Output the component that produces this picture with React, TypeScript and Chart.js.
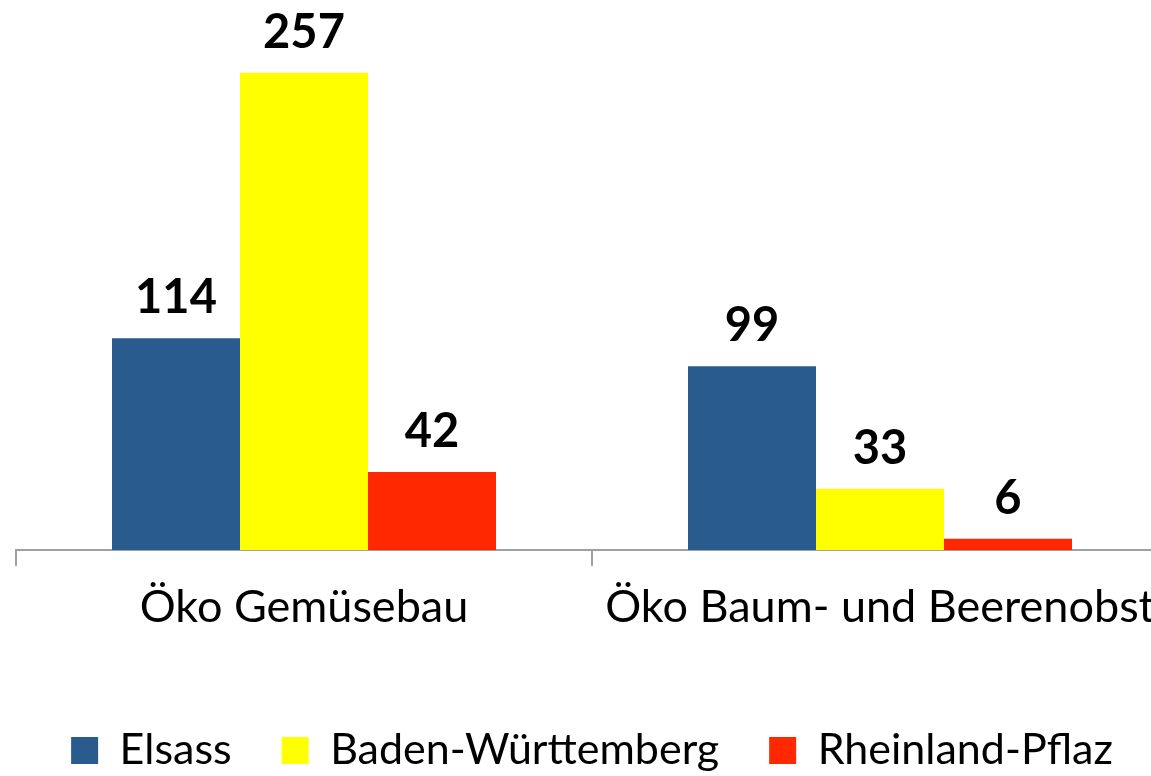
import React, { useEffect, useRef } from 'react';
import { Chart, registerables } from 'chart.js';

Chart.register(...registerables);

const categories = ['Öko Gemüsebau', 'Öko Baum- und Beerenobst'];
const seriesNames = ['Elsass', 'Baden-Württemberg', 'Rheinland-Pflaz'];
const elsass = [114, 99];
const badenWuerttemberg = [257, 33];
const rheinlandPflaz = [42, 6];

const valueLabels = {
  id: 'valueLabels',
  afterDatasetsDraw(chart: any) {
    const ctx = chart.ctx;
    ctx.save();
    ctx.font = 'bold 47px Lato';
    ctx.fillStyle = '#000000';
    ctx.textAlign = 'center';
    ctx.textBaseline = 'alphabetic';
    chart.data.datasets.forEach((ds: any, i: number) => {
      const meta = chart.getDatasetMeta(i);
      meta.data.forEach((el: any, j: number) => {
        ctx.fillText(String(ds.data[j]), el.x, el.y - 25);
      });
    });
    ctx.restore();
  },
};

export default function App() {
  const ref = useRef<HTMLCanvasElement>(null);
  useEffect(() => {
    if (!ref.current) return;
    const chart = new Chart(ref.current, {
      type: 'bar',
      data: {
        labels: categories,
        datasets: [
          { label: seriesNames[0], data: elsass, backgroundColor: '#2A5B8E', borderWidth: 0 },
          { label: seriesNames[1], data: badenWuerttemberg, backgroundColor: '#FFFF00', borderWidth: 0 },
          { label: seriesNames[2], data: rheinlandPflaz, backgroundColor: '#FF2800', borderWidth: 0 },
        ],
      },
      options: {
        responsive: false,
        animation: false,
        layout: { padding: { left: 16, right: 16, top: 30, bottom: 0 } },
        datasets: { bar: { barPercentage: 1, categoryPercentage: 2 / 3 } },
        plugins: {
          legend: {
            position: 'bottom',
            labels: {
              boxWidth: 27,
              boxHeight: 27,
              padding: 50,
              color: '#000000',
              font: { family: 'Lato', size: 43 },
            },
          },
          tooltip: { enabled: false },
        },
        scales: {
          x: {
            grid: {
              display: true,
              drawOnChartArea: false,
              drawTicks: true,
              tickLength: 16,
              color: '#A0A0A0',
              lineWidth: 2,
              offset: true,
            },
            border: { display: true, color: '#A0A0A0', width: 2 },
            ticks: {
              color: '#000000',
              padding: 14,
              font: { family: 'Lato', size: 45 },
              maxRotation: 0,
              autoSkip: false,
            },
            afterFit: (scale: any) => {
              scale.height = 129;
            },
          },
          y: {
            display: false,
            min: 0,
            max: 280,
          },
        },
      },
      plugins: [valueLabels],
    });
    return () => chart.destroy();
  }, []);
  return (
    <div style={{ position: 'absolute', left: 0, top: 0, width: 1151, height: 776, overflow: 'hidden', background: '#fff' }}>
      <canvas ref={ref} width={1184} height={782} />
    </div>
  );
}
